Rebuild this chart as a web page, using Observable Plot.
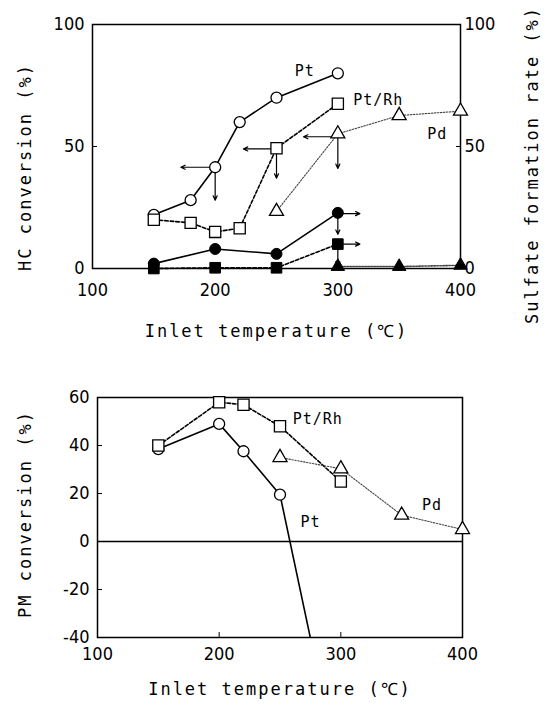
<!DOCTYPE html>
<html><head><meta charset="utf-8">
<script src="https://cdn.jsdelivr.net/npm/d3@7"></script>
<script src="https://cdn.jsdelivr.net/npm/@observablehq/plot@0.6"></script>
<style>
body{margin:0;background:#fff;}
#wrap{position:relative;width:546px;height:709px;background:#fff;overflow:hidden;}
#topc{position:absolute;left:0;top:0;}
#botc{position:absolute;left:0;top:360px;}
.ttl text{letter-spacing:2px;}
.ser text{letter-spacing:1px;}
.vt{position:absolute;white-space:nowrap;font-family:'DejaVu Sans Mono','Liberation Mono',monospace;font-size:17px;letter-spacing:2px;line-height:20px;color:#000;transform:translate(-50%,-50%) rotate(-90deg);}
</style></head>
<body><div id="wrap"><div id="topc"></div><div id="botc"></div></div>
<script>
// ---- data ----
const xTicks = [100, 200, 300, 400];
const hcTicks = [0, 50, 100];
const pmTicks = [-40, -20, 0, 20, 40, 60];

// HC conversion (%) - left axis, top panel
const hcPtT = [150, 180, 200, 220, 250, 300];
const hcPt  = [22, 28, 41.5, 60, 70, 80];
const hcPtRhT = [150, 180, 200, 220, 250, 300];
const hcPtRh  = [20, 18.7, 15, 16.5, 49.3, 67.5];
const hcPdT = [250, 300, 350, 400];
const hcPd  = [23.4, 55.2, 62.7, 64.5];

// Sulfate formation rate (%) - right axis, top panel
const sulfPtT = [150, 200, 250, 300];
const sulfPt  = [2, 8, 6, 22.8];
const sulfPtRhT = [150, 200, 250, 300];
const sulfPtRh  = [0, 0.3, 0.3, 10];
const sulfPdT = [300, 350, 400];
const sulfPd  = [0.8, 0.8, 1.3];

// PM conversion (%) - bottom panel
const pmPtT = [150, 200, 220, 250, 300];
const pmPt  = [38.5, 49, 37.6, 19.5, -100];
const pmPtRhT = [150, 200, 220, 250, 300];
const pmPtRh  = [40, 58, 57, 48, 25];
const pmPdT = [250, 300, 350, 400];
const pmPd  = [35, 30.3, 11, 5];

// annotation arrows (data units)
const arrowsLeft = [
  {x1: 200, y1: 41.5, x2: 172, y2: 41.5},
  {x1: 250, y1: 49, x2: 223, y2: 49},
  {x1: 300, y1: 54, x2: 272, y2: 54}
];
const arrowsDown = [
  {x1: 200, y1: 41.5, x2: 200, y2: 28},
  {x1: 250, y1: 49, x2: 250, y2: 37},
  {x1: 300, y1: 54, x2: 300, y2: 41},
  {x1: 300, y1: 22.5, x2: 300, y2: 14},
  {x1: 300, y1: 10, x2: 300, y2: 1}
];
const arrowsRight = [
  {x1: 300, y1: 22.5, x2: 318, y2: 22.5},
  {x1: 300, y1: 10, x2: 318, y2: 10}
];

// series labels (data units)
const topLabels = [
  {x: 273, y: 81, text: "Pt"},
  {x: 333, y: 69, text: "Pt/Rh"},
  {x: 381, y: 55, text: "Pd"}
];
const botLabels = [
  {x: 281, y: 51, text: "Pt/Rh"},
  {x: 275, y: 8, text: "Pt"},
  {x: 375, y: 15, text: "Pd"}
];

// axis titles
const xTitle = "Inlet temperature (℃)";
const hcTitle = "HC conversion (%)";
const sulfTitle = "Sulfate formation rate (%)";
const pmTitle = "PM conversion (%)";

const pts = (t, v) => t.map((x, i) => ({t: x, v: v[i]}));
const tickFont = "'Liberation Sans Narrow','DejaVu Sans Condensed','Liberation Sans',sans-serif";
const monoFont = "'DejaVu Sans Mono','Liberation Mono',monospace";
const fmt = d => String(d);

const solid = {stroke: "black", strokeWidth: 1.6};
const dashed = {stroke: "black", strokeWidth: 1.6, strokeDasharray: "3.5,2"};
const dotted = {stroke: "#444", strokeWidth: 1.1, strokeDasharray: "1.5,1.5"};
const openDot = (sym, r) => ({symbol: sym, r, fill: "white", stroke: "black", strokeWidth: 1.3});
const fillDot = (sym, r) => ({symbol: sym, r, fill: "black", stroke: "black", strokeWidth: 1});
const title = (s, o) => Plot.text([s], {text: d => d, fontFamily: monoFont, fontSize: 17, fill: "black", className: "ttl", ...o});
const arrowStyle = {x1: "x1", y1: "y1", x2: "x2", y2: "y2", stroke: "black", strokeWidth: 1.2, headLength: 6, headAngle: 50};

const topChart = Plot.plot({
  width: 546, height: 350,
  marginLeft: 92, marginRight: 86, marginTop: 24, marginBottom: 82,
  style: {fontFamily: tickFont, fontSize: "18px", color: "black", background: "white", overflow: "visible"},
  x: {domain: [100, 400]},
  y: {domain: [0, 100]},
  marks: [
    Plot.frame({stroke: "black", strokeWidth: 1.5}),
    Plot.axisX({ticks: xTicks, tickFormat: fmt, tickSize: -5, tickPadding: 20, label: null}),
    Plot.axisY({ticks: hcTicks, tickFormat: fmt, anchor: "left", tickSize: -5, tickPadding: 13, label: null}),
    Plot.axisY({ticks: hcTicks, tickFormat: fmt, anchor: "right", tickSize: -5, tickPadding: 9, label: null}),
    title(xTitle, {frameAnchor: "bottom", dy: 68}),
    Plot.line(pts(hcPtT, hcPt), {x: "t", y: "v", ...solid}),
    Plot.line(pts(hcPtRhT, hcPtRh), {x: "t", y: "v", ...dashed}),
    Plot.line(pts(hcPdT, hcPd), {x: "t", y: "v", ...dotted}),
    Plot.line(pts(sulfPtT, sulfPt), {x: "t", y: "v", ...solid}),
    Plot.line(pts(sulfPtRhT, sulfPtRh), {x: "t", y: "v", ...dashed}),
    Plot.line(pts(sulfPdT, sulfPd), {x: "t", y: "v", ...dotted, strokeWidth: 1.6}),
    Plot.arrow(arrowsLeft, arrowStyle),
    Plot.arrow(arrowsDown, arrowStyle),
    Plot.arrow(arrowsRight, arrowStyle),
    Plot.dot(pts(hcPtT, hcPt), {x: "t", y: "v", ...openDot("circle", 5.5)}),
    Plot.dot(pts(hcPtRhT, hcPtRh), {x: "t", y: "v", ...openDot("square", 6.3)}),
    Plot.dot(pts(hcPdT, hcPd), {x: "t", y: "v", ...openDot("triangle", 5.2)}),
    Plot.dot(pts(sulfPtRhT, sulfPtRh), {x: "t", y: "v", ...fillDot("square", 6)}),
    Plot.dot(pts(sulfPtT, sulfPt), {x: "t", y: "v", ...fillDot("circle", 5.5)}),
    Plot.dot(pts(sulfPdT, sulfPd), {x: "t", y: "v", ...fillDot("triangle", 5)}),
    Plot.text(topLabels, {x: "x", y: "y", text: "text", fontFamily: monoFont, fontSize: 15, fill: "black", className: "ser"})
  ]
});
document.getElementById("topc").appendChild(topChart);

const botChart = Plot.plot({
  width: 546, height: 349,
  marginLeft: 97, marginRight: 84, marginTop: 37, marginBottom: 72,
  style: {fontFamily: tickFont, fontSize: "18px", color: "black", background: "white", overflow: "visible"},
  x: {domain: [100, 400]},
  y: {domain: [-40, 60]},
  marks: [
    Plot.frame({stroke: "black", strokeWidth: 1.5}),
    Plot.ruleY([0], {stroke: "black", strokeWidth: 1.3}),
    Plot.axisX({ticks: xTicks, tickFormat: fmt, tickSize: -5, tickPadding: 15, label: null}),
    Plot.axisY({ticks: pmTicks, tickFormat: fmt, anchor: "left", tickSize: -5, tickPadding: 13, label: null}),
    title(xTitle, {frameAnchor: "bottom", dy: 57}),
    Plot.line(pts(pmPtT, pmPt), {x: "t", y: "v", ...solid, clip: true}),
    Plot.line(pts(pmPtRhT, pmPtRh), {x: "t", y: "v", ...dashed}),
    Plot.line(pts(pmPdT, pmPd), {x: "t", y: "v", ...dotted}),
    Plot.dot(pts(pmPtT, pmPt).filter(d => d.v >= -40), {x: "t", y: "v", ...openDot("circle", 5.5)}),
    Plot.dot(pts(pmPtRhT, pmPtRh), {x: "t", y: "v", ...openDot("square", 6.3)}),
    Plot.dot(pts(pmPdT, pmPd), {x: "t", y: "v", ...openDot("triangle", 5.2)}),
    Plot.text(botLabels, {x: "x", y: "y", text: "text", fontFamily: monoFont, fontSize: 15, fill: "black", className: "ser"})
  ]
});
document.getElementById("botc").appendChild(botChart);

// rotated axis titles placed beside the frames
const wrap = document.getElementById("wrap");
[[hcTitle, 25, 167], [sulfTitle, 532, 165], [pmTitle, 25, 514]].forEach(([s, cx, cy]) => {
  const d = document.createElement("div");
  d.className = "vt";
  d.textContent = s;
  d.style.left = cx + "px";
  d.style.top = cy + "px";
  wrap.appendChild(d);
});
</script>
</body></html>
